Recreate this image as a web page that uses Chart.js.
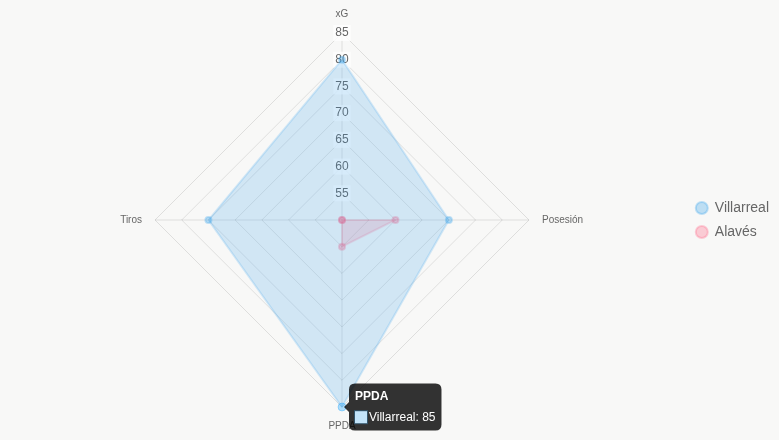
<!DOCTYPE html>
<html>
<head>
<meta charset="utf-8">
<script src="https://cdn.jsdelivr.net/npm/chart.js@4"></script>
<style>
	html, body { margin: 0; padding: 0; background: #f8f8f7; }
	#wrap { width: 779px; height: 440px; }
</style>
</head>
<body>
<div id="wrap"><canvas id="radarChart"></canvas></div>
<script>
// Métricas y valores de cada equipo
const labels = ["xG", "Posesión", "PPDA", "Tiros"];
const villarreal = [80, 70, 85, 75];
const alaves = [50, 60, 55, 50];

const ctx = document.getElementById("radarChart").getContext("2d");
const chart = new Chart(ctx, {
	type: "radar",
	data: {
		labels: labels,
		datasets: [
			{
				label: "Villarreal",
				data: villarreal,
				backgroundColor: "rgba(54, 162, 235, 0.2)",
				borderColor: "rgba(54, 162, 235, 0.2)",
				pointBackgroundColor: "rgba(54, 162, 235, 0.3)",
				pointBorderColor: "rgba(54, 162, 235, 0.3)",
				borderWidth: 2
			},
			{
				label: "Alavés",
				data: alaves,
				backgroundColor: "rgba(255, 99, 132, 0.2)",
				borderColor: "rgba(255, 99, 132, 0.2)",
				pointBackgroundColor: "rgba(255, 99, 132, 0.3)",
				pointBorderColor: "rgba(255, 99, 132, 0.3)",
				borderWidth: 2
			}
		]
	},
	options: {
		responsive: true,
		maintainAspectRatio: false,
		animation: false,
		layout: { padding: { top: 8, bottom: 8 } },
		scales: {
			r: {
				min: 50,
				max: 85,
				ticks: { stepSize: 5, font: { size: 12 }, color: "#666" },
				pointLabels: { font: { size: 10 }, color: "#666" }
			}
		},
		plugins: {
			legend: {
				position: "right",
				labels: { usePointStyle: true, boxWidth: 12, boxHeight: 8.5, font: { size: 14 }, color: "#666" }
			}
		}
	}
});

// Tooltip activo en PPDA (Villarreal)
const pt = chart.getDatasetMeta(0).data[2];
chart.setActiveElements([{ datasetIndex: 0, index: 2 }]);
chart.tooltip.setActiveElements([{ datasetIndex: 0, index: 2 }], { x: pt.x, y: pt.y });
chart.update();
</script>
</body>
</html>
